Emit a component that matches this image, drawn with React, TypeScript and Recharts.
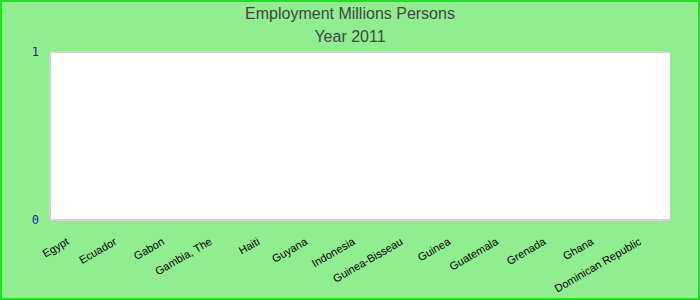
// Employment (millions of persons) by country for 2011, drawn as a bar chart
// on a green panel. Every country reports zero for the year, so only the empty
// plot frame, the axes and the rotated country names show.
import { BarChart, Bar, XAxis, YAxis, CartesianGrid } from 'recharts';

const countries = [
  'Egypt',
  'Ecuador',
  'Gabon',
  'Gambia, The',
  'Haiti',
  'Guyana',
  'Indonesia',
  'Guinea-Bisseau',
  'Guinea',
  'Guatemala',
  'Grenada',
  'Ghana',
  'Dominican Republic',
];
const employment = [0, 0, 0, 0, 0, 0, 0, 0, 0, 0, 0, 0, 0];
const yTicks = [0, 1];

const titleLines = ['Employment Millions Persons', 'Year 2011'];

const PANEL = '#90ee90';
const FRAME = '#d2d2d2';
const TICK_BLUE = '#1f1fa8';

const data = countries.map((name, i) => ({ name, value: employment[i] }));

export default function App() {
  return (
    <div
      style={{
        position: 'absolute',
        left: 0,
        top: 0,
        width: 700,
        height: 300,
        boxSizing: 'border-box',
        border: '2px solid #22e022',
        background: PANEL,
        fontFamily: '"Liberation Sans", Arial, sans-serif',
      }}
    >
      <div
        style={{
          position: 'absolute',
          left: 0,
          right: 0,
          top: 0,
          textAlign: 'center',
          color: '#444',
          fontSize: 16,
          lineHeight: '23px',
        }}
      >
        {titleLines.map((t) => (
          <div key={t}>{t}</div>
        ))}
      </div>
      <BarChart
        width={696}
        height={296}
        data={data}
        margin={{ top: 50, right: 28, bottom: 0, left: 0 }}
      >
        <CartesianGrid fill="#fff" stroke={FRAME} strokeWidth={2} vertical={false} />
        <XAxis
          dataKey="name"
          interval={0}
          axisLine={false}
          tickLine={false}
          angle={-30}
          textAnchor="end"
          height={78}
          dx={-8}
          dy={9}
          tick={{ fill: '#000', fontSize: 11, fontFamily: '"Liberation Sans", Arial, sans-serif' }}
        />
        <YAxis
          width={48}
          domain={[0, 1]}
          ticks={yTicks}
          axisLine={{ stroke: FRAME, strokeWidth: 2 }}
          tickLine={false}
          dx={-3}
          tick={{ fill: TICK_BLUE, fontSize: 12, fontFamily: '"DejaVu Sans Mono", monospace' }}
        />
        <YAxis
          yAxisId="frame"
          orientation="right"
          width={0}
          domain={[0, 1]}
          tick={false}
          tickLine={false}
          axisLine={{ stroke: FRAME, strokeWidth: 2 }}
        />
        <Bar dataKey="value" fill="#4472c4" isAnimationActive={false} />
      </BarChart>
    </div>
  );
}
